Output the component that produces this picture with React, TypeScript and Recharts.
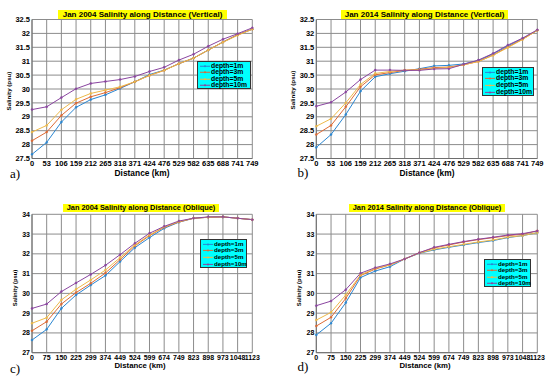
import React from 'react';
import { LineChart, Line, XAxis, YAxis, CartesianGrid } from 'recharts';

const distVertical = ['0', '53', '106', '159', '212', '265', '318', '371', '424', '476', '529', '582', '635', '688', '741', '749'];
const distOblique = ['0', '75', '150', '225', '299', '374', '449', '524', '599', '674', '749', '823', '898', '973', '1048', '1123'];
const depthNames = ['depth=1m', 'depth=3m', 'depth=5m', 'depth=10m'];
const depthColors = ['#2a86d1', '#dd6a35', '#edb94a', '#8a45a0'];
const ticksVertical = [27.5, 28, 28.5, 29, 29.5, 30, 30.5, 31, 31.5, 32, 32.5];
const ticksOblique = [27, 28, 29, 30, 31, 32, 33, 34];

// a) Jan 2004 Vertical
const a1m = [27.65, 28.08, 28.81, 29.34, 29.62, 29.79, 30.02, 30.26, 30.52, 30.68, 30.91, 31.11, 31.4, 31.69, 31.95, 32.15];
const a3m = [28.14, 28.45, 29.05, 29.49, 29.72, 29.87, 30.05, 30.26, 30.49, 30.67, 30.91, 31.11, 31.4, 31.69, 31.95, 32.15];
const a5m = [28.45, 28.69, 29.25, 29.63, 29.84, 29.96, 30.08, 30.26, 30.49, 30.67, 30.91, 31.11, 31.4, 31.68, 31.93, 32.15];
const a10m = [29.26, 29.36, 29.69, 30.01, 30.2, 30.27, 30.34, 30.45, 30.63, 30.78, 31.04, 31.25, 31.54, 31.79, 31.99, 32.2];

// b) Jan 2014 Vertical
const b1m = [27.9, 28.36, 29.08, 29.92, 30.44, 30.55, 30.64, 30.73, 30.83, 30.85, 30.9, 31.02, 31.26, 31.55, 31.81, 32.11];
const b3m = [28.36, 28.69, 29.36, 30.08, 30.51, 30.59, 30.67, 30.71, 30.77, 30.79, 30.87, 30.99, 31.22, 31.51, 31.79, 32.11];
const b5m = [28.66, 28.93, 29.5, 30.16, 30.56, 30.63, 30.68, 30.69, 30.74, 30.77, 30.87, 30.99, 31.21, 31.49, 31.78, 32.11];
const b10m = [29.38, 29.52, 29.89, 30.34, 30.68, 30.68, 30.67, 30.67, 30.72, 30.73, 30.89, 31.04, 31.28, 31.58, 31.83, 32.13];

// c) Jan 2004 Oblique
const c1m = [27.64, 28.18, 29.24, 29.92, 30.42, 30.9, 31.61, 32.31, 32.82, 33.29, 33.6, 33.8, 33.85, 33.87, 33.8, 33.73];
const c3m = [28.11, 28.57, 29.46, 30.04, 30.51, 31.03, 31.71, 32.4, 32.92, 33.34, 33.61, 33.8, 33.85, 33.87, 33.8, 33.73];
const c5m = [28.49, 28.77, 29.67, 30.21, 30.68, 31.18, 31.81, 32.45, 32.95, 33.36, 33.63, 33.8, 33.85, 33.87, 33.8, 33.73];
const c10m = [29.24, 29.46, 30.09, 30.53, 30.96, 31.42, 31.96, 32.53, 33.04, 33.39, 33.66, 33.8, 33.87, 33.87, 33.8, 33.73];

// d) Jan 2014 Oblique
const d1m = [27.9, 28.49, 29.53, 30.8, 31.13, 31.35, 31.74, 32.03, 32.2, 32.33, 32.45, 32.57, 32.67, 32.82, 32.92, 33.07];
const d3m = [28.35, 28.79, 29.75, 30.9, 31.23, 31.44, 31.74, 32.06, 32.3, 32.45, 32.6, 32.72, 32.82, 32.92, 32.99, 33.16];
const d5m = [28.65, 29.04, 29.92, 30.93, 31.27, 31.44, 31.74, 32.04, 32.23, 32.36, 32.48, 32.6, 32.7, 32.84, 32.92, 33.07];
const d10m = [29.38, 29.61, 30.19, 31.02, 31.3, 31.49, 31.74, 32.06, 32.33, 32.48, 32.62, 32.74, 32.84, 32.95, 33.02, 33.16];

const FONT = '"Liberation Sans", Arial, Helvetica, sans-serif';

function buildRows(cats: string[], series: number[][]) {
  return cats.map((c, i) => {
    const row: any = { d: c };
    series.forEach((s, k) => (row['s' + k] = s[i]));
    return row;
  });
}

type PanelProps = {
  left: number; top: number; width: number; height: number;
  margin: { top: number; right: number; bottom: number; left: number };
  yWidth: number; xHeight: number; cats: string[]; series: number[][];
  domain: [number, number]; ticks: number[]; fs: number;
};

function Panel(p: PanelProps) {
  const data = buildRows(p.cats, p.series);
  const tickStyle = { fontSize: p.fs, fontWeight: 700, fill: '#000', fontFamily: FONT };
  return (
    <div style={{ position: 'absolute', left: p.left, top: p.top, width: p.width, height: p.height }}>
      <LineChart width={p.width} height={p.height} data={data} margin={p.margin}>
        <CartesianGrid stroke="#8c8c8c" strokeWidth={1} />
        <XAxis dataKey="d" interval={0} tickLine={false} tickSize={0} tickMargin={2}
          height={p.xHeight} tick={tickStyle} axisLine={{ stroke: '#6e6e6e' }} />
        <YAxis type="number" domain={p.domain} ticks={p.ticks} interval={0} tickLine={false}
          tickSize={0} tickMargin={2} width={p.yWidth} tick={tickStyle} axisLine={{ stroke: '#6e6e6e' }}
          allowDataOverflow />
        {p.series.map((_, k) => (
          <Line key={k} dataKey={'s' + k} type="linear" stroke={depthColors[k]} strokeWidth={1}
            dot={{ r: 1, fill: depthColors[k], stroke: depthColors[k], strokeWidth: 0.5 }}
            isAnimationActive={false} />
        ))}
      </LineChart>
    </div>
  );
}

function Title({ text, left, top, width, height, fs }: any) {
  return (
    <div style={{
      position: 'absolute', left, top, width, height, background: '#ffff00', color: '#000',
      fontFamily: FONT, fontWeight: 700, fontSize: fs, lineHeight: height + 'px', textAlign: 'center',
      whiteSpace: 'nowrap',
    }}>{text}</div>
  );
}

function CenterText({ text, cx, cy, fs, rotate, serif, bold = true }: any) {
  return (
    <div style={{
      position: 'absolute', left: cx, top: cy, transform: `translate(-50%, -50%)${rotate ? ' rotate(-90deg)' : ''}`,
      fontFamily: serif ? '"Liberation Serif", "Times New Roman", serif' : FONT, fontWeight: bold ? 700 : 400,
      fontSize: fs, whiteSpace: 'nowrap', color: '#000', lineHeight: 1,
    }}>{text}</div>
  );
}

function LegendBox({ left, top, width, height, fs }: any) {
  const rowH = (height - 2) / 4;
  return (
    <div style={{
      position: 'absolute', left, top, width, height, background: '#00ffff', border: '1px solid #333',
      boxSizing: 'border-box',
    }}>
      {depthNames.map((n, k) => (
        <div key={k} style={{ position: 'absolute', left: 0, top: 0.5 + k * rowH, height: rowH, width: '100%' }}>
          <svg width={10} height={rowH} style={{ position: 'absolute', left: 2, top: 0 }}>
            <line x1={0} y1={rowH / 2} x2={10} y2={rowH / 2} stroke={depthColors[k]} strokeWidth={1} />
            <circle cx={5} cy={rowH / 2} r={1} fill={depthColors[k]} />
          </svg>
          <div style={{
            position: 'absolute', left: 13, top: 0, height: rowH, lineHeight: rowH + 'px', fontFamily: FONT,
            fontWeight: 700, fontSize: fs, color: '#000', whiteSpace: 'nowrap',
          }}>{n}</div>
        </div>
      ))}
    </div>
  );
}

export default function App() {
  return (
    <div style={{ position: 'absolute', left: 0, top: 0, width: 550, height: 379, background: '#fff', overflow: 'hidden' }}>
      <Panel left={0} top={0} width={275} height={190} margin={{ top: 19.5, right: 22.7, bottom: 11.5, left: 0 }}
        yWidth={32} xHeight={20} cats={distVertical} series={[a1m, a3m, a5m, a10m]} domain={[27.5, 32.5]}
        ticks={ticksVertical} fs={7.5} />
      <Panel left={275} top={0} width={275} height={190} margin={{ top: 19.5, right: 12.7, bottom: 11.5, left: 0 }}
        yWidth={41.3} xHeight={20} cats={distVertical} series={[b1m, b3m, b5m, b10m]} domain={[27.5, 32.5]}
        ticks={ticksVertical} fs={7.5} />
      <Panel left={0} top={185} width={275} height={194} margin={{ top: 29.3, right: 22.7, bottom: 6.3, left: 0 }}
        yWidth={32} xHeight={20} cats={distOblique} series={[c1m, c3m, c5m, c10m]} domain={[27, 34]}
        ticks={ticksOblique} fs={7} />
      <Panel left={275} top={185} width={275} height={194} margin={{ top: 29.3, right: 12.7, bottom: 6.3, left: 0 }}
        yWidth={41.3} xHeight={20} cats={distOblique} series={[d1m, d3m, d5m, d10m]} domain={[27, 34]}
        ticks={ticksOblique} fs={7} />

      <Title text="Jan 2004 Salinity along Distance (Vertical)" left={58} top={9.5} width={169} height={9} fs={8} />
      <Title text="Jan 2014 Salinity along Distance (Vertical)" left={341} top={9.5} width={167} height={9} fs={8} />
      <Title text="Jan 2004 Salinity along Distance (Oblique)" left={63} top={204.3} width={156} height={8} fs={7.4} />
      <Title text="Jan 2014 Salinity along Distance (Oblique)" left={349} top={204.3} width={156} height={8} fs={7.4} />

      <CenterText text="Salinity (psu)" cx={9} cy={91} fs={6.2} rotate />
      <CenterText text="Salinity (psu)" cx={293} cy={90} fs={6.2} rotate />
      <CenterText text="Salinity (psu)" cx={16} cy={288} fs={5.8} rotate />
      <CenterText text="Salinity (psu)" cx={300} cy={288} fs={5.8} rotate />

      <CenterText text="Distance (km)" cx={142} cy={173} fs={8.4} />
      <CenterText text="Distance (km)" cx={427} cy={173} fs={8.4} />
      <CenterText text="Distance (km)" cx={140} cy={366} fs={7.8} />
      <CenterText text="Distance (km)" cx={425} cy={366} fs={7.8} />

      <CenterText text="a)" cx={15} cy={173} fs={13} serif bold={false} />
      <CenterText text="b)" cx={303} cy={172} fs={13} serif bold={false} />
      <CenterText text="c)" cx={15} cy={368} fs={13} serif bold={false} />
      <CenterText text="d)" cx={303} cy={366} fs={13} serif bold={false} />

      <LegendBox left={197} top={61} width={54} height={28} fs={6.8} />
      <LegendBox left={482} top={67} width={52} height={29} fs={6.8} />
      <LegendBox left={200} top={239} width={47} height={29} fs={6.2} />
      <LegendBox left={484} top={259} width={47} height={28} fs={6.2} />
    </div>
  );
}
